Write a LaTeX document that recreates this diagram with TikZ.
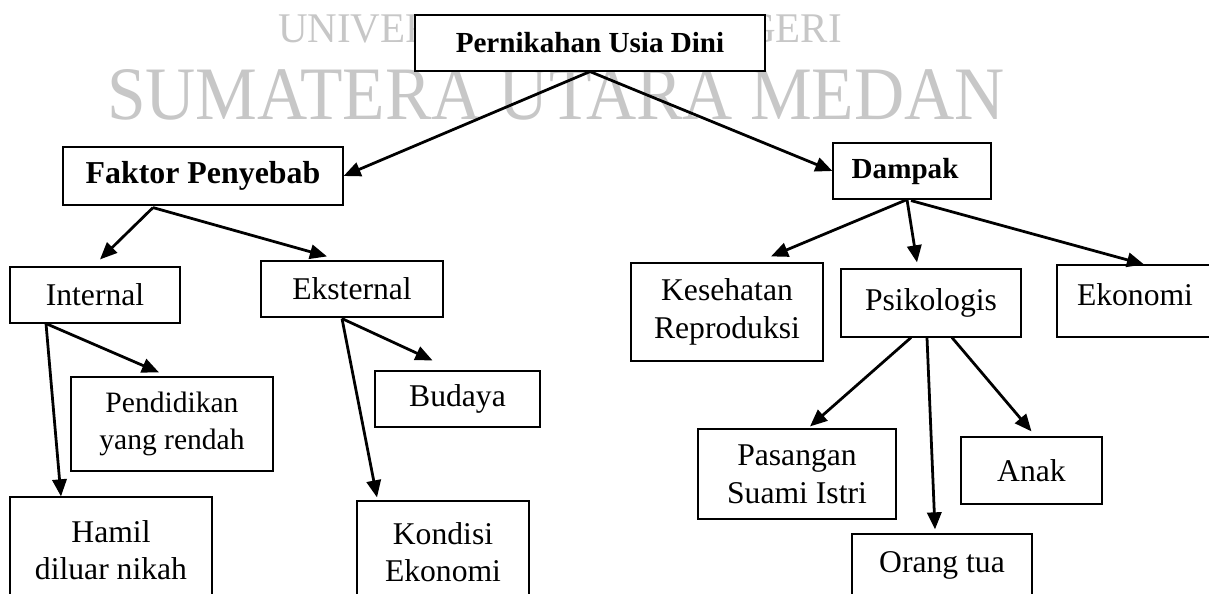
\documentclass[tikz,border=0pt]{standalone}
\usepackage{fontspec}
\setmainfont{Liberation Serif}
\usetikzlibrary{arrows.meta,calc}

\begin{document}
\begin{tikzpicture}[x=0.433pt,y=-0.433pt,
		kotak/.style={draw,line width=0.5pt,fill=white,inner sep=0pt,align=center,font=\fontsize{13.7}{16.3}\selectfont},
		judul/.style={kotak,font=\bfseries\fontsize{12.6}{15}\selectfont},
		ukuran/.style 2 args={minimum width=#1*0.433pt,minimum height=#2*0.433pt},
		panah/.style={-{Triangle[length=7.4pt,width=6.2pt]},line width=1.2pt},
		watermark/.style={text=black!22}]
				  \path[use as bounding box,clip] (0,0) rectangle (1209,593);
				  \node[watermark,font=\fontsize{18.3}{22}\selectfont,xscale=0.97] (univ) at (560,29) {UNIVERSITAS ISLAM NEGERI};
				  \node[watermark,font=\fontsize{32.7}{40}\selectfont,xscale=0.92] (sumut) at (556,95) {SUMATERA UTARA MEDAN};
				  \node[judul,ukuran={350}{56}] (pernikahan) at (590,43) {Pernikahan Usia Dini};
				  \node[judul,font=\bfseries\fontsize{13.8}{16}\selectfont,ukuran={280}{58}] (faktor) at (203,176) {Faktor Penyebab};
				  \node[judul,ukuran={158}{56}] (dampak) at (912,171) {Dampak\hspace{6pt}};
				  \node[kotak,ukuran={170}{56}] (internal) at (95,295) {Internal};
				  \node[kotak,ukuran={182}{56}] (eksternal) at (352,289) {Eksternal};
				  \node[kotak,font=\fontsize{12.8}{16.3}\selectfont,ukuran={202}{94}] (pendidikan) at (172,424) {Pendidikan\\yang rendah};
				  \node[kotak,ukuran={202}{106}] (hamil) at (111,550) {Hamil\\diluar nikah};
				  \node[kotak,ukuran={165}{56}] (budaya) at (457.5,399) {Budaya};
				  \node[kotak,ukuran={172}{102}] (kondisi) at (443,552) {Kondisi\\Ekonomi};
				  \node[kotak,ukuran={192}{98}] (kesehatan) at (727,312) {Kesehatan\\Reproduksi};
				  \node[kotak,ukuran={180}{68}] (psikologis) at (931,303) {Psikologis};
				  \node[kotak,text depth=6pt,ukuran={156}{72}] (ekonomi) at (1135,301) {Ekonomi};
				  \node[kotak,ukuran={198}{90}] (pasangan) at (797,474) {Pasangan\\Suami Istri};
				  \node[kotak,ukuran={141}{67}] (anak) at (1031.5,470.5) {Anak};
				  \node[kotak,ukuran={180}{62}] (orangtua) at (942,565) {Orang tua};
				  \draw[panah] (pernikahan.south) -- (faktor.east);
				  \draw[panah] (pernikahan.south) -- (dampak.west);
				  \draw[panah] ($(faktor.south)+(-50,2)$) -- ($(internal.north)+(5,-7)$);
				  \draw[panah] ($(faktor.south)+(-50,2)$) -- ($(eksternal.north)+(-25,-4)$);
				  \draw[panah] ($(internal.south)+(-49,0)$) -- ($(pendidikan.north)+(-13,-4)$);
				  \draw[panah] ($(internal.south)+(-49,0)$) -- ($(hamil.north)+(-50,0)$);
				  \draw[panah] ($(eksternal.south)+(-10,1)$) -- ($(budaya.north)+(-25,-10)$);
				  \draw[panah] ($(eksternal.south)+(-10,1)$) -- ($(kondisi.north)+(-66,-3)$);
				  \draw[panah] ($(dampak.south)+(-5,0)$) -- ($(kesehatan.north)+(44,-6)$);
				  \draw[panah] ($(dampak.south)+(-5,0)$) -- ($(psikologis.north)+(-14,-6)$);
				  \draw[panah] ($(dampak.south)+(-1,1)$) -- ($(ekonomi.north)+(9,0)$);
				  \draw[panah] ($(psikologis.south)+(-20,0)$) -- ($(pasangan.north)+(13,-2)$);
				  \draw[panah] ($(psikologis.south)+(-4,0)$) -- ($(orangtua.north)+(-7,-4)$);
				  \draw[panah] ($(psikologis.south)+(21,0)$) -- ($(anak.north)+(0,-5)$);
\end{tikzpicture}
\end{document}
